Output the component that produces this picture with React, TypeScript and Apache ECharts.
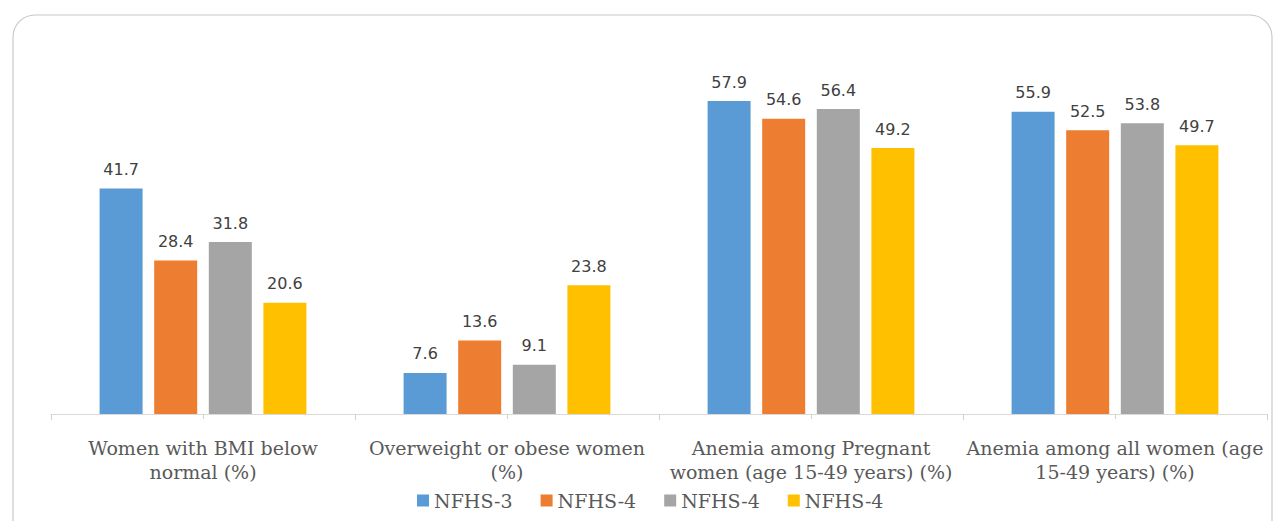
import React, { useEffect, useRef } from "react";
import * as echarts from "echarts";

const categories = [
  "Women with BMI below\nnormal (%)",
  "Overweight or obese women\n(%)",
  "Anemia among Pregnant\nwomen (age 15-49 years) (%)",
  "Anemia among all women (age\n15-49 years) (%)",
];
const seriesNames = ["NFHS-3", "NFHS-4", "NFHS-4#2", "NFHS-4#3"];
const nfhs3 = [41.7, 7.6, 57.9, 55.9];
const nfhs4a = [28.4, 13.6, 54.6, 52.5];
const nfhs4b = [31.8, 9.1, 56.4, 53.8];
const nfhs4c = [20.6, 23.8, 49.2, 49.7];
const colors = ["#5B9BD5", "#ED7D31", "#A5A5A5", "#FFC000"];

export default function App() {
  const ref = useRef<HTMLDivElement>(null);
  useEffect(() => {
    if (!ref.current) return;
    const chart = echarts.init(ref.current, null, { renderer: "svg" });
    const values = [nfhs3, nfhs4a, nfhs4b, nfhs4c];
    const serifFont = "DejaVu Serif";
    chart.setOption({
      animation: false,
      backgroundColor: "#ffffff",
      graphic: [
        {
          type: "rect",
          shape: { x: 13, y: 15, width: 1259, height: 620, r: 22 },
          style: { fill: "none", stroke: "#c8c8c8", lineWidth: 1.2 },
          silent: true,
          z: -10,
        },
      ],
      grid: { left: 51, right: 7, top: 35.6, bottom: 107, containLabel: false },
      legend: {
        data: seriesNames,
        left: 412,
        top: 486,
        icon: "rect",
        itemWidth: 12,
        itemHeight: 12,
        itemGap: 28,
        formatter: (name: string) => name.split("#")[0],
        textStyle: { fontFamily: serifFont, fontSize: 19, color: "#595959" },
      },
      xAxis: [
        {
          type: "category",
          data: categories,
          position: "bottom",
          axisLine: { show: true, lineStyle: { color: "#d9d9d9", width: 1 } },
          axisTick: { show: true, alignWithLabel: false, length: 6, lineStyle: { color: "#d0d0d0" } },
          axisLabel: {
            margin: 22,
            interval: 0,
            fontFamily: serifFont,
            fontSize: 19,
            lineHeight: 24,
            color: "#595959",
          },
        },
        {
          type: "category",
          data: categories,
          position: "bottom",
          axisLine: { show: false },
          axisTick: { show: true, alignWithLabel: true, length: 5, lineStyle: { color: "#d0d0d0" } },
          axisLabel: { show: false },
        },
      ],
      yAxis: {
        type: "value",
        min: 0,
        max: 70,
        show: false,
        splitLine: { show: false },
      },
      series: seriesNames.map((name, i) => ({
        name,
        type: "bar",
        xAxisIndex: 0,
        data: values[i],
        barWidth: 43,
        barGap: "27%",
        itemStyle: { color: colors[i] },
        label: {
          show: true,
          position: "top",
          distance: 11,
          fontFamily: "DejaVu Sans",
          fontSize: 16,
          color: "#404040",
          formatter: (p: any) => Number(p.value).toFixed(1),
        },
      })),
    });
    return () => chart.dispose();
  }, []);
  return (
    <div
      ref={ref}
      style={{ position: "fixed", left: 0, top: 0, width: 1274, height: 521 }}
    />
  );
}
